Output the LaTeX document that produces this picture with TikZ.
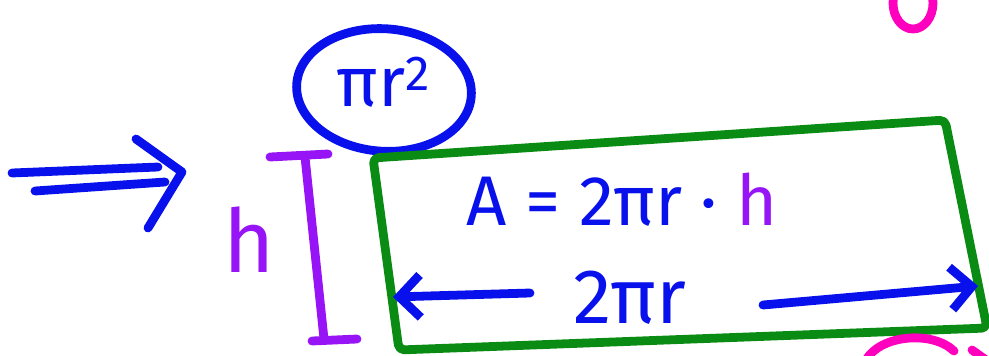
\documentclass[tikz,border=0pt]{standalone}
\usepackage{fontspec}
\setmainfont{Fira Sans}
\usetikzlibrary{shapes.geometric,arrows.meta}

\definecolor{inkblue}{RGB}{8,16,235}
\definecolor{inkgreen}{RGB}{10,140,20}
\definecolor{inkpurple}{RGB}{150,20,245}
\definecolor{inkpink}{RGB}{255,0,190}

\tikzset{
  cyl-ink/.style={line width=5pt, line cap=round, line join=round},
  cyl-blue/.style={cyl-ink, draw=inkblue},
  cyl-green/.style={cyl-ink, draw=inkgreen, rounded corners=3pt},
  cyl-purple/.style={cyl-ink, draw=inkpurple},
  cyl-pink/.style={cyl-ink, draw=inkpink},
  cyl-text/.style={text=inkblue, inner sep=0pt},
}

\begin{document}
\begin{tikzpicture}[
        x=0.02cm, y=-0.02cm,
        cyl-arrow/.style={cyl-blue, -{Straight Barb[length=0.42cm, width=0.85cm, line width=5pt]}},
        cyl-lid/.style={ellipse, cyl-blue, minimum width=3.5cm, minimum height=2.45cm, inner sep=0pt}
    ]
    \useasboundingbox (0,0) rectangle (989,355);
    \clip (0,0) rectangle (989,355);

    % Double arrow on the left
    \coordinate (dbla) at (12,173);
    \coordinate (dblb) at (158,167);
    \coordinate (dblc) at (35,191);
    \coordinate (dbld) at (165,182);
    \coordinate (tipup) at (136,139);
    \coordinate (tip) at (182,172);
    \coordinate (tipdn) at (148,228);
    \draw[cyl-blue] (dbla) -- (dblb);
    \draw[cyl-blue] (dblc) -- (dbld);
    \draw[cyl-blue] (tipup) -- (tip) -- (tipdn);

    % Height bar and its label
    \node[text=inkpurple, inner sep=0pt, font=\fontsize{50}{54}\selectfont] (hleft) at (249,240) {h};
    \coordinate (bartl) at (270,157);
    \coordinate (bartr) at (328,154);
    \coordinate (bartop) at (305,157);
    \coordinate (barbot) at (324,339);
    \coordinate (barbl) at (312,341);
    \coordinate (barbr) at (357,339);
    \draw[cyl-purple] (bartl) -- (bartr);
    \draw[cyl-purple] (bartop) -- (barbot);
    \draw[cyl-purple] (barbl) -- (barbr);

    % Lid (circle) with its area
    \node[cyl-lid, rotate=-4] (lid) at (384,90) {};
    \node[cyl-text, font=\fontsize{40}{44}\selectfont] (lidarea) at (384,82) {πr\textsuperscript{2}};

    % Unrolled side
    \coordinate (boxtl) at (373,158);
    \coordinate (boxtr) at (945,120);
    \coordinate (boxbr) at (987,328);
    \coordinate (boxbl) at (399,350);
    \draw[cyl-green] (boxtl) -- (boxtr) -- (boxbr) -- (boxbl) -- cycle;

    \node[cyl-text, font=\fontsize{40}{44}\selectfont] (area) at (622,200) {A = 2πr · \textcolor{inkpurple}{h}};
    \node[cyl-text, font=\fontsize{44}{48}\selectfont] (girth) at (630,298) {2πr};

    \coordinate (girthl) at (530,293);
    \coordinate (girthle) at (393,297);
    \coordinate (girthr) at (763,305);
    \coordinate (girthre) at (978,286);
    \draw[cyl-arrow] (girthl) -- (girthle);
    \draw[cyl-arrow] (girthr) -- (girthre);

    % Pink strokes cut off at the edges
    \draw[cyl-pink] (913,3) ellipse [x radius=20, y radius=26];
    \coordinate (pinka) at (866,360);
    \coordinate (pinkb) at (954,351);
    \draw[cyl-pink] (pinka) .. controls (880,335) and (932,330) .. (pinkb);
    \draw[cyl-pink] (972,350) -- (986,360);

\end{tikzpicture}
\end{document}
